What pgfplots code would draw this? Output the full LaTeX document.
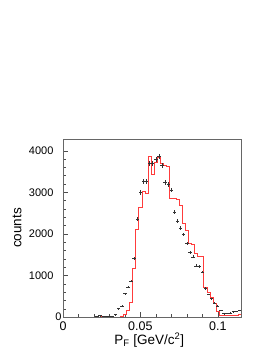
\documentclass[border=0pt]{standalone}
\usepackage{pgfplots}
\pgfplotsset{compat=1.18}
\usepackage{pgfplotstable}
\usepackage{fontspec}
\setmainfont{Liberation Sans}
\definecolor{histred}{RGB}{255,60,60}
\pgfplotstableread{
x y
0 0
0.023 35
0.025 0
0.037 25
0.039 60
0.041 150
0.043 340
0.045 1170
0.047 2100
0.049 2630
0.051 3020
0.053 2960
0.055 3860
0.057 3440
0.059 3720
0.061 3830
0.063 3690
0.065 3640
0.067 3620
0.069 2840
0.071 2840
0.073 2830
0.075 2690
0.077 2250
0.079 2080
0.081 1760
0.083 1740
0.085 1540
0.087 1460
0.089 1460
0.091 720
0.093 580
0.095 470
0.097 320
0.099 130
0.101 45
0.103 40
0.105 40
0.107 40
0.109 40
0.111 45
0.113 70
0.115 70
}\simdata
\pgfplotstableread{
x y ey
0.022 10 3
0.024 30 5
0.026 15 4
0.028 5 2
0.030 5 2
0.032 15 4
0.034 60 8
0.036 200 14
0.038 265 16
0.040 562 24
0.042 722 27
0.044 865 30
0.046 1405 38
0.048 2345 48
0.050 2995 55
0.052 3260 57
0.054 3260 57
0.056 3690 61
0.058 3700 61
0.060 3790 62
0.062 3860 62
0.064 3650 60
0.066 3230 57
0.068 3190 57
0.070 3050 55
0.072 2516 50
0.074 2306 48
0.076 2130 46
0.078 1986 45
0.080 1768 42
0.082 1552 39
0.084 1446 38
0.086 1229 35
0.088 1222 35
0.090 1085 33
0.092 684 26
0.094 542 23
0.096 442 21
0.098 340 18
0.100 262 16
0.102 160 13
0.104 82 9
0.106 92 10
0.108 100 10
0.110 128 11
0.112 142 12
0.114 165 13
}\expdata
\begin{document}
\begin{tikzpicture}
\useasboundingbox (-63pt,-38pt) rectangle (211pt,317pt);
\begin{axis}[
  scale only axis, width=178pt, height=178pt,
  xmin=0, xmax=0.115, ymin=0, ymax=4280,
  xtick={0,0.05,0.1}, xticklabels={0,0.05,0.1},
  minor x tick num=4,
  ytick={0,1000,2000,3000,4000},
  yticklabels={0\hspace*{-8pt},1000,2000,3000,4000},
  minor y tick num=4,
  tick pos=left,
  tick align=inside,
  major tick length=5pt, minor tick length=2.5pt,
  axis line style={black!60},
  tick style={black!70},
  yticklabel style={font=\fontsize{11}{13}\selectfont, anchor=east, xshift=-6pt},
  xticklabel style={font=\fontsize{12.5}{14}\selectfont, anchor=north, yshift=-1pt},
  xlabel={P\textsubscript{F} [GeV/c\textsuperscript{2}]},
  ylabel={counts},
  label style={font=\fontsize{13.5}{15}\selectfont},
  xlabel style={at={(axis description cs:0.485,-0.13)}, anchor=center},
  ylabel style={at={(axis description cs:-0.258,0.5)}, anchor=center, rotate=0},
  clip=true,
]
\addplot[histred, line width=0.8pt, const plot mark left] table[x=x,y=y]{\simdata};
\addplot[draw=none, mark=none,
  error bars/.cd, x dir=both, x fixed=0.0011, y dir=both, y explicit,
  error bar style={draw=black!80, solid, line width=0.6pt}, error mark=none]
  table[x=x,y=y,y error=ey]{\expdata};
\end{axis}
\end{tikzpicture}
\end{document}
